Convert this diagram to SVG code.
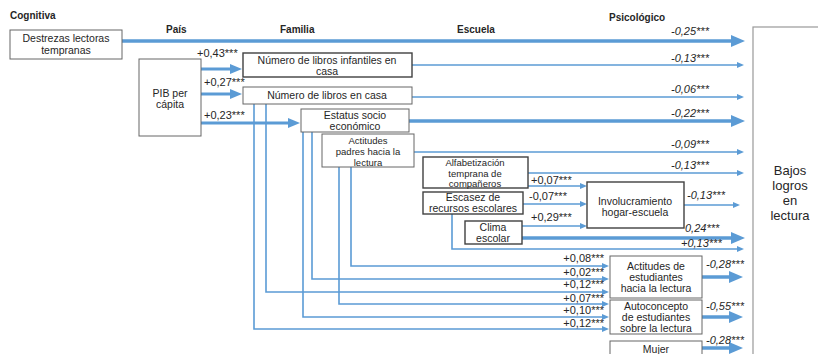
<svg xmlns="http://www.w3.org/2000/svg" width="818" height="354" viewBox="0 0 818 354">
<style>
text{font-family:"Liberation Sans",Arial,sans-serif;fill:#262626}
.h{font-size:10px;font-weight:bold}
.t{font-size:10.5px;text-anchor:middle}
.s{font-size:9.5px;text-anchor:middle}
.b{font-size:13px;text-anchor:middle}
.c{font-size:11px}
.ci{font-size:11px;font-style:italic}
.e{text-anchor:end}
.box{fill:#fff;stroke:#666;stroke-width:1}
.dbox{fill:#fff;stroke:#404040;stroke-width:1.4}
.thk{fill:none;stroke:#5B9BD5;stroke-width:3.5}
.mid{fill:none;stroke:#5B9BD5;stroke-width:3}
.thn{fill:none;stroke:#5B9BD5;stroke-width:1.6}
</style>
<defs>
<marker id="ah" markerUnits="userSpaceOnUse" markerWidth="14" markerHeight="12" refX="2" refY="6" orient="auto"><path d="M0,0 L14,6 L0,12 z" fill="#5B9BD5"/></marker>
<marker id="am" markerUnits="userSpaceOnUse" markerWidth="12" markerHeight="10" refX="2" refY="5" orient="auto"><path d="M0,0 L12,5 L0,10 z" fill="#5B9BD5"/></marker>
<marker id="as" markerUnits="userSpaceOnUse" markerWidth="7" markerHeight="6" refX="1" refY="3" orient="auto"><path d="M0,0 L7,3 L0,6 z" fill="#5B9BD5"/></marker>
</defs>
<rect width="818" height="354" fill="#fff"/>
<g id="headings">
<text class="h" x="10" y="19">Cognitiva</text>
<text class="h" x="166" y="33">País</text>
<text class="h" x="280" y="33">Familia</text>
<text class="h" x="457" y="33">Escuela</text>
<text class="h" x="609" y="21">Psicológico</text>
</g>
<g id="connectors">
<path class="thk" d="M122,41 H733" marker-end="url(#ah)"/>
<path class="mid" d="M201,69 H232" marker-end="url(#am)"/>
<path class="mid" d="M201,94 H232" marker-end="url(#am)"/>
<path class="mid" d="M201,123 H290" marker-end="url(#am)"/>
<path class="thn" d="M412,65 H738" marker-end="url(#as)"/>
<path class="thn" d="M412,97 H738" marker-end="url(#as)"/>
<path class="thk" d="M409,121 H733" marker-end="url(#ah)"/>
<path class="thn" d="M414,152 H738" marker-end="url(#as)"/>
<path class="thn" d="M528,173 H738" marker-end="url(#as)"/>
<path class="thn" d="M528,186 H581" marker-end="url(#as)"/>
<path class="thn" d="M523,204 H581" marker-end="url(#as)"/>
<path class="thn" d="M522,226 H581" marker-end="url(#as)"/>
<path class="thk" d="M522,238 H733" marker-end="url(#ah)"/>
<path class="thn" d="M452,214 V249 H738" marker-end="url(#as)"/>
<path class="thn" d="M684,205 H734" marker-end="url(#as)"/>
<path class="thn" d="M351,167 V266 H603" marker-end="url(#as)"/>
<path class="thn" d="M312,132 V279 H603" marker-end="url(#as)"/>
<path class="thn" d="M266,104 V292 H603" marker-end="url(#as)"/>
<path class="thn" d="M339,167 V304 H603" marker-end="url(#as)"/>
<path class="thn" d="M303,132 V317 H603" marker-end="url(#as)"/>
<path class="thn" d="M254,104 V329 H603" marker-end="url(#as)"/>
<path class="thk" d="M702,277 H731" marker-end="url(#ah)"/>
<path class="thk" d="M702,317 H731" marker-end="url(#ah)"/>
<path class="thk" d="M702,348 H731" marker-end="url(#ah)"/>
</g>
<g id="coefficients">
<text class="c" x="197" y="57">+0,43***</text>
<text class="c" x="204" y="86">+0,27***</text>
<text class="c" x="204" y="119">+0,23***</text>
<text class="ci" x="671" y="35">-0,25***</text>
<text class="ci" x="671" y="62">-0,13***</text>
<text class="ci" x="671" y="93">-0,06***</text>
<text class="ci" x="671" y="117">-0,22***</text>
<text class="ci" x="671" y="148">-0,09***</text>
<text class="ci" x="671" y="169">-0,13***</text>
<text class="c" x="531" y="184">+0,07***</text>
<text class="c" x="529" y="200">-0,07***</text>
<text class="c" x="531" y="221">+0,29***</text>
<text class="ci" x="687" y="199">-0,13***</text>
<text class="ci" x="685" y="232">0,24***</text>
<text class="ci" x="681" y="247">+0,13***</text>
<text class="c e" x="604" y="262">+0,08***</text>
<text class="c e" x="604" y="276">+0,02***</text>
<text class="c e" x="604" y="288">+0,12***</text>
<text class="c e" x="604" y="302">+0,07***</text>
<text class="c e" x="604" y="314">+0,10***</text>
<text class="c e" x="604" y="327">+0,12***</text>
<text class="ci" x="706" y="268">-0,28***</text>
<text class="ci" x="706" y="310">-0,55***</text>
<text class="ci" x="706" y="344">-0,28***</text>
</g>
<g id="destrezas"><rect class="box" x="10" y="30" width="112" height="29"/><text class="t" x="66" y="42">Destrezas lectoras</text><text class="t" x="66" y="54">tempranas</text></g>
<g id="pib"><rect class="box" x="139" y="59" width="62" height="77"/><text class="t" x="170" y="97">PIB per</text><text class="t" x="170" y="108">cápita</text></g>
<g id="libros-infantiles"><rect class="dbox" x="243" y="53" width="169" height="24"/><text class="t" x="327" y="64">Número de libros infantiles en</text><text class="t" x="327" y="75">casa</text></g>
<g id="libros"><rect class="box" x="243" y="87" width="169" height="17"/><text class="t" x="327" y="99">Número de libros en casa</text></g>
<g id="estatus"><rect class="box" x="301" y="109" width="108" height="23"/><text class="t" x="355" y="119">Estatus socio</text><text class="t" x="355" y="130">económico</text></g>
<g id="actitudes-padres"><rect class="box" x="322" y="134" width="92" height="33"/><text class="s" x="368" y="144">Actitudes</text><text class="s" x="368" y="155">padres hacia la</text><text class="s" x="368" y="166">lectura</text></g>
<g id="alfabetizacion"><rect class="dbox" x="423" y="157" width="105" height="31"/><text class="s" x="475" y="165.5">Alfabetización</text><text class="s" x="475" y="176.5">temprana de</text><text class="s" x="475" y="187">compañeros</text></g>
<g id="escasez"><rect class="dbox" x="423" y="192" width="100" height="22"/><text class="t" x="473" y="201">Escasez de</text><text class="t" x="473" y="212">recursos escolares</text></g>
<g id="clima"><rect class="dbox" x="465" y="221" width="57" height="23"/><text class="t" x="493" y="231">Clima</text><text class="t" x="493" y="242">escolar</text></g>
<g id="involucramiento"><rect class="dbox" x="587" y="182" width="97" height="46"/><text class="t" x="635" y="205">Involucramiento</text><text class="t" x="635" y="216">hogar-escuela</text></g>
<g id="actitudes-estudiantes"><rect class="box" x="610" y="256" width="92" height="42"/><text class="t" x="656" y="270">Actitudes de</text><text class="t" x="656" y="281">estudiantes</text><text class="t" x="656" y="292">hacia la lectura</text></g>
<g id="autoconcepto"><rect class="box" x="610" y="300" width="92" height="34"/><text class="t" x="656" y="310">Autoconcepto</text><text class="t" x="656" y="321">de estudiantes</text><text class="t" x="656" y="332">sobre la lectura</text></g>
<g id="mujer"><rect class="box" x="610" y="341" width="92" height="20"/><text class="t" x="656" y="353">Mujer</text></g>
<g id="bajos-logros"><rect x="753" y="27" width="80" height="340" fill="#fff" stroke="#999" stroke-width="1.2"/><text class="b" x="790" y="175">Bajos</text><text class="b" x="790" y="190">logros</text><text class="b" x="790" y="205">en</text><text class="b" x="790" y="220">lectura</text></g>
</svg>
